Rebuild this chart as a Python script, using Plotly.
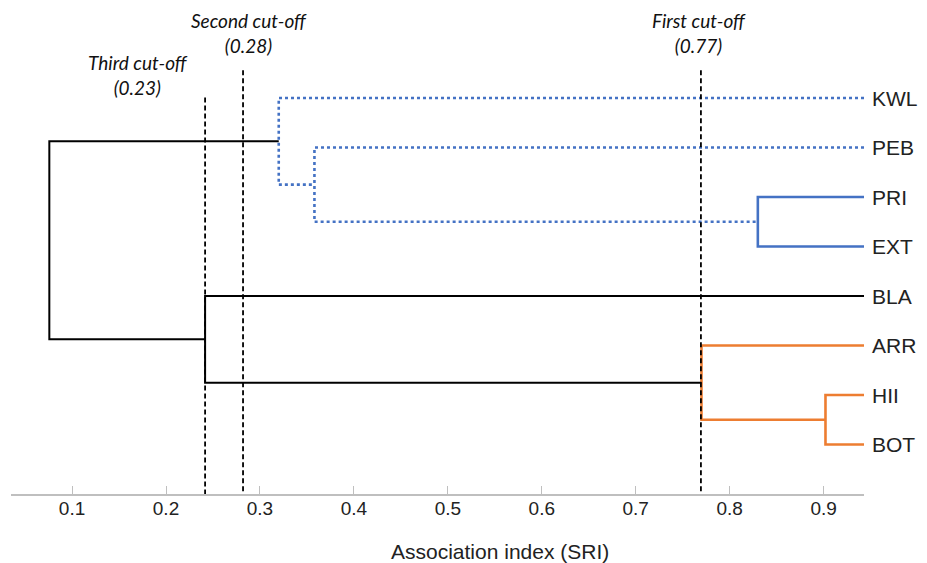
import plotly.graph_objects as go

# ---- data ----
leaves = ["KWL", "PEB", "PRI", "EXT", "BLA", "ARR", "HII", "BOT"]
leaf_sri = 0.943  # leaf end of the axis

# merges: node ids 0..7 are leaves, 8.. are clusters (in order)
merge_left = [2, 6, 5, 1, 0, 4, 12]
merge_right = [3, 7, 9, 8, 11, 10, 13]
merge_sri = [0.830, 0.902, 0.770, 0.358, 0.320, 0.2416, 0.0758]
merge_group = ["blue", "orange", "orange", "bluedot", "bluedot", "black", "black"]

cutoff_labels = ["First cut-off<br>(0.77)", "Second cut-off<br>(0.28)", "Third cut-off<br>(0.23)"]
cutoff_sri = [0.7694, 0.282, 0.2416]

tick_vals = [0.1, 0.2, 0.3, 0.4, 0.5, 0.6, 0.7, 0.8, 0.9]
tick_text = ["0.1", "0.2", "0.3", "0.4", "0.5", "0.6", "0.7", "0.8", "0.9"]

styles = {
    "blue": dict(color="#4472C4", width=2.6, dash="solid"),
    "orange": dict(color="#ED7D31", width=2.6, dash="solid"),
    "bluedot": dict(color="#4472C4", width=2.6, dash="3px,3px"),
    "black": dict(color="#000000", width=2, dash="solid"),
}

# ---- build positions ----
node_x = {i: leaf_sri for i in range(len(leaves))}
node_y = {i: float(i) for i in range(len(leaves))}

fig = go.Figure()
for k, (a, b, h, g) in enumerate(zip(merge_left, merge_right, merge_sri, merge_group)):
    nid = len(leaves) + k
    xs = [node_x[a], h, h, node_x[b]]
    ys = [node_y[a], node_y[a], node_y[b], node_y[b]]
    fig.add_trace(go.Scatter(x=xs, y=ys, mode="lines", line=styles[g],
                             hoverinfo="skip", showlegend=False))
    node_x[nid] = h
    node_y[nid] = (node_y[a] + node_y[b]) / 2

# cut-off dashed lines
cut_top = [-0.56, -0.56, -0.01]
for xv, top in zip(cutoff_sri, cut_top):
    fig.add_trace(go.Scatter(x=[xv, xv], y=[top, 8.29], mode="lines",
                             line=dict(color="#000000", width=1.8, dash="5px,3px"),
                             hoverinfo="skip", showlegend=False, cliponaxis=False))

# leaf labels
for i, name in enumerate(leaves):
    fig.add_annotation(x=leaf_sri, y=i, text=name, xanchor="left", yanchor="middle",
                       xshift=6, showarrow=False,
                       font=dict(family="Liberation Sans, Arial", size=21, color="#222222"))

# cut-off labels (x in data units, y in paper units)
label_pos = [(0.767, 1.0376), (0.2884, 1.038), (0.1697, 0.9426)]
for txt, (lx, ly) in zip(cutoff_labels, label_pos):
    fig.add_annotation(x=lx, y=ly, yref="paper", text="<i>" + txt + "</i>", showarrow=False,
                       xanchor="center", yanchor="middle",
                       font=dict(family="Lato, Open Sans", size=19, color="#111111"))

# axis title
fig.add_annotation(xref="paper", yref="paper", x=0.573, y=-0.1306,
                   text="Association index (SRI)", showarrow=False,
                   xanchor="center", yanchor="middle",
                   font=dict(family="Liberation Sans, Arial", size=21, color="#222222"))

fig.update_layout(
    width=927, height=563,
    margin=dict(l=3, r=71, t=42, b=77),
    plot_bgcolor="white", paper_bgcolor="white",
    xaxis=dict(range=[0.035, 0.943], tickvals=tick_vals, ticktext=tick_text,
               showgrid=False, zeroline=False, showline=True, linecolor="#BFBFBF",
               linewidth=1.5, ticks="inside", ticklen=8, tickcolor="#BFBFBF",
               tickwidth=1, ticklabelstandoff=-4,
               tickfont=dict(family="Liberation Sans, Arial", size=19, color="#222222")),
    yaxis=dict(range=[8, -0.97], visible=False, showgrid=False, zeroline=False),
)

fig.write_html("out.html")
